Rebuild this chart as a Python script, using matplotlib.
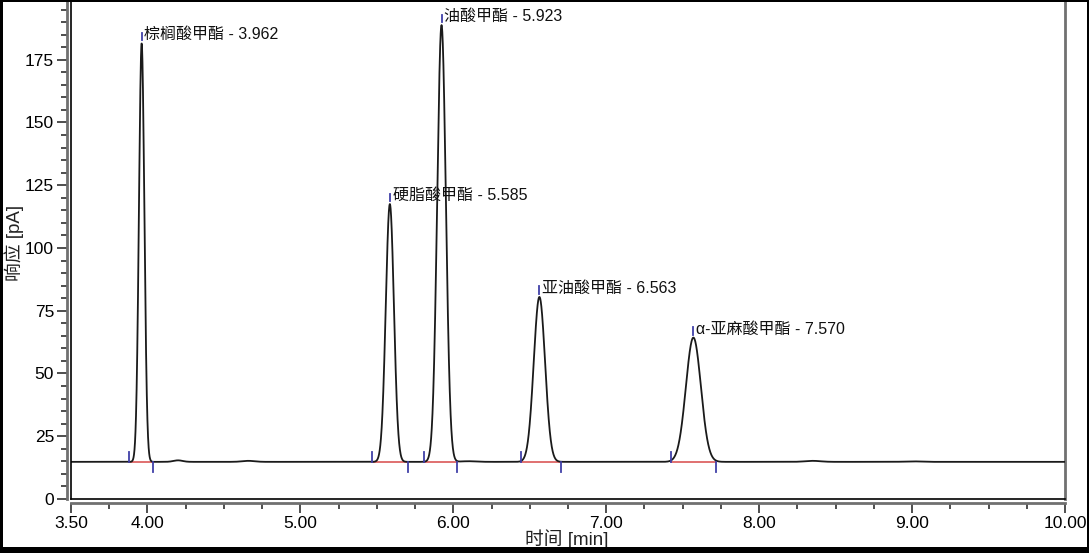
import numpy as np
import matplotlib
matplotlib.use("Agg")
import matplotlib.pyplot as plt
from matplotlib.patches import Rectangle

# ---- data ----
peak_names = ["棕榈酸甲酯", "硬脂酸甲酯", "油酸甲酯", "亚油酸甲酯", "α-亚麻酸甲酯"]
peak_times = [3.962, 5.585, 5.923, 6.563, 7.570]          # retention time [min]
peak_heights = [181.5, 117.5, 188.8, 80.5, 64.3]           # apex response [pA]
peak_sigmas = [0.0176, 0.0266, 0.0282, 0.037, 0.049]       # peak width (sigma) [min]
peak_starts = [3.882, 5.466, 5.806, 6.441, 7.423]          # integration start [min]
peak_ends = [4.039, 5.702, 6.022, 6.703, 7.718]            # integration end [min]
baseline_level = 14.8                                      # [pA]
bump_times = [4.20, 4.66, 6.10, 8.35, 9.00]                # small baseline ripples
bump_heights = [0.6, 0.4, 0.25, 0.4, 0.2]
bump_sigmas = [0.03, 0.04, 0.05, 0.05, 0.05]

x_major = [3.5, 4, 5, 6, 7, 8, 9, 10]
x_labels = ["3.50", "4.00", "5.00", "6.00", "7.00", "8.00", "9.00", "10.00"]
y_major = [0, 25, 50, 75, 100, 125, 150, 175]

# ---- build trace ----
t = np.linspace(3.5, 10.0, 8000)
signal = np.full_like(t, baseline_level)
for tr, h, s in zip(peak_times, peak_heights, peak_sigmas):
    signal += (h - baseline_level) * np.exp(-0.5 * ((t - tr) / s) ** 2)
for tb, hb, sb in zip(bump_times, bump_heights, bump_sigmas):
    signal += hb * np.exp(-0.5 * ((t - tb) / sb) ** 2)

plt.rcParams['font.family'] = ['Liberation Sans', 'Noto Sans CJK SC', 'DejaVu Sans']

W, H = 1089, 553
fig = plt.figure(figsize=(W / 100, H / 100), dpi=100)
ax = fig.add_axes([71 / W, 1 - 499 / H, (1065 - 71) / W, (499 - 2) / H])

ax.plot(t, signal, color="#1a1a1a", lw=1.3, zorder=3)

blue = "#4040a8"
for name, tr, h, ts, te in zip(peak_names, peak_times, peak_heights, peak_starts, peak_ends):
    ax.plot([ts, te], [baseline_level, baseline_level], color="#e07070", lw=1.4, zorder=2)
    ax.plot([ts, ts], [baseline_level, baseline_level + 4.0], color=blue, lw=1.3, zorder=4)
    ax.plot([te, te], [baseline_level, baseline_level - 4.0], color=blue, lw=1.3, zorder=4)
    ax.plot([tr, tr], [h + 1.2, h + 4.2], color=blue, lw=1.3, zorder=4)
    ax.text(tr + 0.018, h + 3.4, f"{name} - {tr:.3f}", fontsize=11.5, va="center",
            ha="left", color="#111111", zorder=5)

ax.set_xlim(3.5, 10.0)
ax.set_ylim(0, 198)
ax.set_xticks(x_major)
ax.set_xticklabels(x_labels)
ax.set_xticks(np.arange(3.5, 10.001, 0.25), minor=True)
ax.set_yticks(y_major)
ax.set_yticks(np.arange(0, 196, 5), minor=True)

spine_col = "#707070"
for side in ["left", "bottom"]:
    ax.spines[side].set_position(("outward", 3.2))
    ax.spines[side].set_color(spine_col)
    ax.spines[side].set_linewidth(2)
ax.spines["top"].set_visible(False)
ax.spines["right"].set_color(spine_col)
ax.spines["right"].set_linewidth(2)

ax.tick_params(axis="both", which="major", length=7, width=1.2, color="#303030",
               labelsize=12.5, pad=2)
ax.tick_params(axis="both", which="minor", length=4, width=1.2, color="#303030")

# inner frame lines (left & bottom)
ax.plot([0, 0], [0, 1], transform=ax.transAxes, color="black", lw=1.2, clip_on=False, zorder=6)
ax.plot([0, 1], [0, 0], transform=ax.transAxes, color="black", lw=1.2, clip_on=False, zorder=6)

fig.text(14 / W, 1 - 243 / H, "响应 [pA]", rotation=90, ha="center", va="center",
         fontsize=13.5, color="#222222")
fig.text(567 / W, 1 - 539 / H, "时间 [min]", ha="center", va="center",
         fontsize=13.5, color="#222222")

# outer black window border
for (x0, y0, w, h) in [(0, 0, 3, H), (0, H - 2, W, 2), (W - 2, 0, 2, H), (0, 0, W, 6)]:
    fig.patches.append(Rectangle((x0 / W, y0 / H), w / W, h / H, transform=fig.transFigure,
                                 facecolor="black", edgecolor="none", zorder=10))

fig.savefig("out.png", dpi=100)
